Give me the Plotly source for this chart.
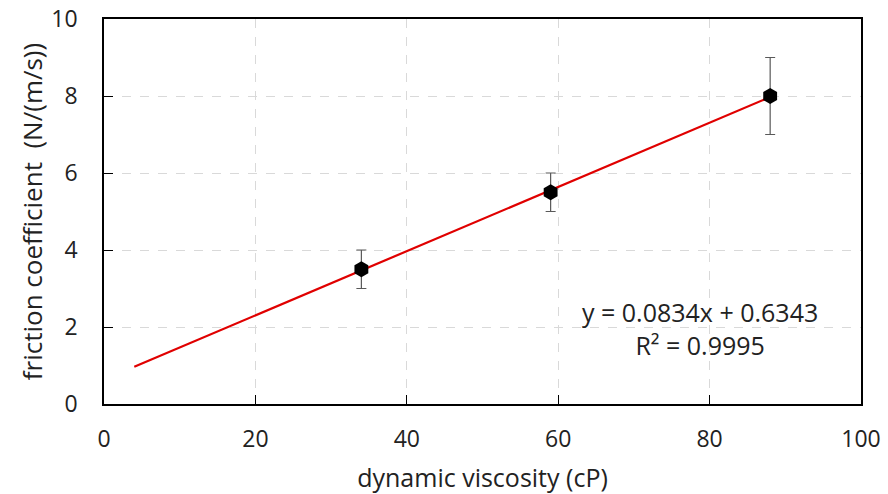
import plotly.graph_objects as go

viscosity = [34, 59, 88]
friction = [3.5, 5.5, 8.0]
err = [0.5, 0.5, 1.0]
slope = 0.0834
intercept = 0.6343
trend_x = [4, 88]
x_ticks = [0, 20, 40, 60, 80, 100]
y_ticks = [0, 2, 4, 6, 8, 10]

font_family = "Open Sans"
fs = 23
fig = go.Figure()
fig.add_trace(go.Scatter(
    x=trend_x, y=[slope * v + intercept for v in trend_x],
    mode="lines", line=dict(color="#e00000", width=2.2), showlegend=False))
fig.add_trace(go.Scatter(
    x=viscosity, y=friction, mode="markers",
    marker=dict(symbol="hexagon", size=16, color="black"),
    error_y=dict(type="data", array=err, color="#595959", thickness=1.2, width=5),
    showlegend=False))

fig.add_annotation(x=78.7, y=1.95, xref="x", yref="y",
                   text="y = 0.0834x + 0.6343<br>R² = 0.9995", showarrow=False,
                   xanchor="center", yanchor="middle",
                   font=dict(family=font_family, size=25, color="#222"))

axis_common = dict(showline=True, linecolor="black", linewidth=1.5, mirror=True,
                   ticks="inside", ticklen=9, tickcolor="black", tickwidth=1.2,
                   gridcolor="#d9d9d9", griddash="dash", gridwidth=1,
                   zeroline=False, automargin=False, ticklabeloverflow="allow",
                   tickfont=dict(family=font_family, size=fs, color="#222"))

fig.update_xaxes(range=[0, 100], tickvals=x_ticks, ticklabelstandoff=14,
                 title=dict(text="dynamic viscosity (cP)", standoff=19,
                            font=dict(family=font_family, size=25, color="#222")),
                 **axis_common)
fig.update_yaxes(range=[0, 10], tickvals=y_ticks, ticklabelstandoff=20,
                 title=dict(text="friction coefficient  (N/(m/s))", standoff=1,
                            font=dict(family=font_family, size=26, color="#222")),
                 **axis_common)

fig.update_layout(width=888, height=494, plot_bgcolor="white", paper_bgcolor="white",
                  margin=dict(l=104, r=27, t=19, b=90))
fig.write_html("out.html", config={"displayModeBar": False},
               post_script="document.body.style.margin='0';document.body.style.overflow='hidden';")
